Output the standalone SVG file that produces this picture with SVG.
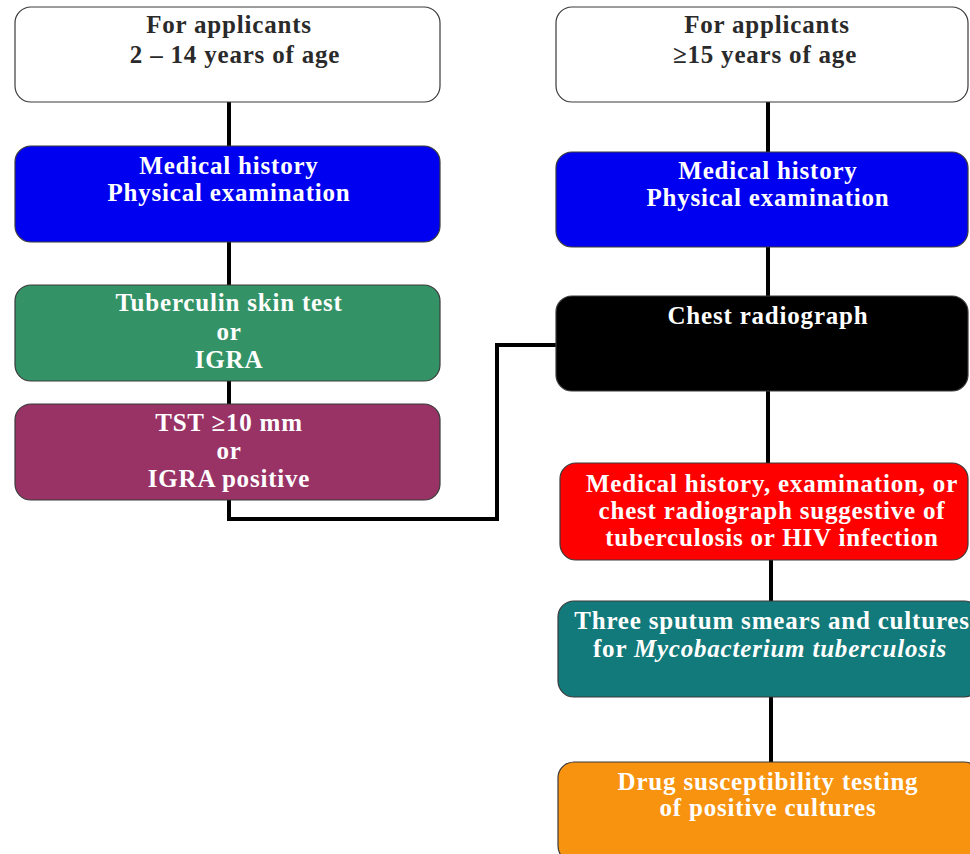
<svg xmlns="http://www.w3.org/2000/svg" width="970" height="854" viewBox="0 0 970 854">
<style>
.box{stroke:#3a3a3a;stroke-width:1.2}
.t{font-family:"Liberation Serif","DejaVu Serif",serif;font-weight:bold;font-size:25px;letter-spacing:0.8px;text-anchor:middle;fill:#fff}
.d{fill:#2a2a2a}
.c{fill:none;stroke:#000;stroke-width:4}
</style>
<rect width="970" height="854" fill="#fff"/>
<g id="connectors">
<line class="c" x1="229" y1="102" x2="229" y2="146"/>
<line class="c" x1="229" y1="242" x2="229" y2="285"/>
<line class="c" x1="229" y1="381" x2="229" y2="404"/>
<polyline class="c" points="229,500 229,519 497,519 497,345 557,345"/>
<line class="c" x1="768" y1="102" x2="768" y2="152"/>
<line class="c" x1="768" y1="247" x2="768" y2="296"/>
<line class="c" x1="768" y1="391" x2="768" y2="463"/>
<line class="c" x1="771" y1="560" x2="771" y2="601"/>
<line class="c" x1="771" y1="697" x2="771" y2="762"/>
</g>
<g id="left-age">
<rect class="box" x="15" y="7" width="425" height="95" rx="16" fill="#fff"/>
<text class="t d" x="229" y="33">For applicants</text>
<text class="t d" x="235" y="63" letter-spacing="-0.4">2 – 14 years of age</text>
</g>
<g id="left-history">
<rect class="box" x="15" y="146" width="425" height="96" rx="16" fill="#0000f0"/>
<text class="t" x="229" y="174">Medical history</text>
<text class="t" x="229" y="201">Physical examination</text>
</g>
<g id="left-tst">
<rect class="box" x="15" y="285" width="425" height="96" rx="16" fill="#339366"/>
<text class="t" x="229" y="311">Tuberculin skin test</text>
<text class="t" x="229" y="340">or</text>
<text class="t" x="229" y="368">IGRA</text>
</g>
<g id="left-positive">
<rect class="box" x="15" y="404" width="425" height="96" rx="16" fill="#993366"/>
<text class="t" x="229" y="431">TST ≥10 mm</text>
<text class="t" x="229" y="459">or</text>
<text class="t" x="229" y="487">IGRA positive</text>
</g>
<g id="right-age">
<rect class="box" x="556" y="7" width="412" height="95" rx="16" fill="#fff"/>
<text class="t d" x="767" y="33">For applicants</text>
<text class="t d" x="765" y="63">≥15 years of age</text>
</g>
<g id="right-history">
<rect class="box" x="556" y="152" width="412" height="95" rx="16" fill="#0000f0"/>
<text class="t" x="768" y="179">Medical history</text>
<text class="t" x="768" y="206">Physical examination</text>
</g>
<g id="right-chest">
<rect class="box" x="556" y="296" width="412" height="95" rx="16" fill="#000"/>
<text class="t" x="768" y="324">Chest radiograph</text>
</g>
<g id="right-suggestive">
<rect class="box" x="560" y="463" width="408" height="97" rx="16" fill="#ff0000"/>
<text class="t" x="772" y="492">Medical history, examination, or</text>
<text class="t" x="772" y="519">chest radiograph suggestive of</text>
<text class="t" x="772" y="546">tuberculosis or HIV infection</text>
</g>
<g id="right-sputum">
<rect class="box" x="558" y="601" width="422" height="96" rx="16" fill="#127a7a"/>
<text class="t" x="772" y="629">Three sputum smears and cultures</text>
<text class="t" x="770" y="657">for <tspan font-style="italic">Mycobacterium tuberculosis</tspan></text>
</g>
<g id="right-dst">
<rect class="box" x="558" y="762" width="422" height="100" rx="16" fill="#f7930f"/>
<text class="t" x="768" y="790">Drug susceptibility testing</text>
<text class="t" x="768" y="816">of positive cultures</text>
</g>
</svg>
